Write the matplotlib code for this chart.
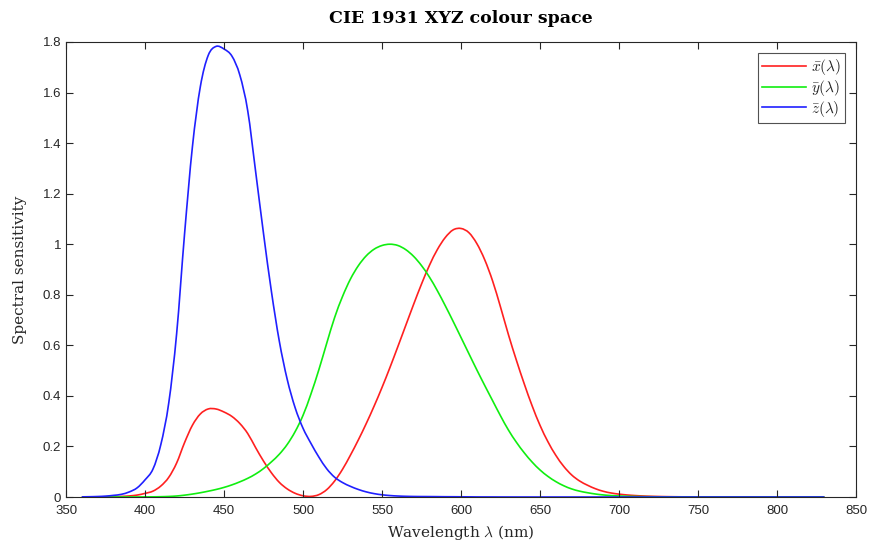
import matplotlib
matplotlib.use('Agg')
import matplotlib.pyplot as plt
from matplotlib.path import Path
from matplotlib.patches import PathPatch
from matplotlib.lines import Line2D

# CIE 1931 2 degree colour matching functions, 5 nm steps
wavelength = list(range(360, 831, 5))

x_bar = [0.0001299, 0.0002321, 0.0004149, 0.0007416, 0.001368, 0.002236, 0.004243, 0.00765,
         0.01431, 0.02319, 0.04351, 0.07763, 0.13438, 0.21477, 0.2839, 0.3285,
         0.34828, 0.34806, 0.3362, 0.3187, 0.2908, 0.2511, 0.19536, 0.1421,
         0.09564, 0.05795, 0.03201, 0.0147, 0.0049, 0.0024, 0.0093, 0.0291,
         0.06327, 0.1096, 0.1655, 0.22575, 0.2904, 0.3597, 0.43345, 0.51205,
         0.5945, 0.6784, 0.7621, 0.8425, 0.9163, 0.9786, 1.0263, 1.0567,
         1.0622, 1.0456, 1.0026, 0.9384, 0.85445, 0.7514, 0.6424, 0.5419,
         0.4479, 0.3608, 0.2835, 0.2187, 0.1649, 0.1212, 0.0874, 0.0636,
         0.04677, 0.0329, 0.0227, 0.01584, 0.011359, 0.0081109, 0.0057903, 0.0041065,
         0.0028993, 0.0020492, 0.00144, 0.001, 0.00069008, 0.00047602, 0.0003323, 0.00023483,
         0.00016615, 0.00011741, 8.3075e-05, 5.8707e-05, 4.151e-05, 2.9353e-05, 2.0674e-05, 1.456e-05,
         1.0254e-05, 7.2215e-06, 5.0859e-06, 3.5817e-06, 2.5225e-06, 1.7765e-06, 1.2511e-06]

y_bar = [3.917e-06, 6.965e-06, 1.239e-05, 2.202e-05, 3.9e-05, 6.4e-05, 0.00012, 0.000217,
         0.000396, 0.00064, 0.00121, 0.00218, 0.004, 0.0073, 0.0116, 0.01684,
         0.023, 0.0298, 0.038, 0.048, 0.06, 0.0739, 0.09098, 0.1126,
         0.13902, 0.1693, 0.20802, 0.2586, 0.323, 0.4073, 0.503, 0.6082,
         0.71, 0.7932, 0.862, 0.91485, 0.954, 0.9803, 0.99495, 1.0,
         0.995, 0.9786, 0.952, 0.9154, 0.87, 0.8163, 0.757, 0.6949,
         0.631, 0.5668, 0.503, 0.4412, 0.381, 0.321, 0.265, 0.217,
         0.175, 0.1382, 0.107, 0.0816, 0.061, 0.04458, 0.032, 0.0232,
         0.017, 0.01192, 0.00821, 0.005723, 0.004102, 0.002929, 0.002091, 0.001484,
         0.001047, 0.00074, 0.00052, 0.0003611, 0.0002492, 0.0001719, 0.00012, 8.48e-05,
         6e-05, 4.24e-05, 3e-05, 2.12e-05, 1.499e-05, 1.06e-05, 7.4657e-06, 5.2578e-06,
         3.7029e-06, 2.6078e-06, 1.8366e-06, 1.2934e-06, 9.1093e-07, 6.4153e-07, 4.5181e-07]

z_bar = [0.0006061, 0.001086, 0.001946, 0.003486, 0.00645, 0.01055, 0.02005, 0.03621,
         0.06785, 0.1102, 0.2074, 0.3713, 0.6456, 1.03905, 1.3856, 1.62296,
         1.74706, 1.7826, 1.77211, 1.7441, 1.6692, 1.5281, 1.28764, 1.0419,
         0.81295, 0.6162, 0.46518, 0.3533, 0.272, 0.2123, 0.1582, 0.1117,
         0.07825, 0.05725, 0.04216, 0.02984, 0.0203, 0.0134, 0.00875, 0.00575,
         0.0039, 0.00275, 0.0021, 0.0018, 0.00165, 0.0014, 0.0011, 0.001,
         0.0008, 0.0006, 0.00034, 0.00024, 0.00019, 0.0001, 5e-05, 3e-05,
         2e-05, 1e-05, 0, 0, 0, 0, 0, 0,
         0, 0, 0, 0, 0, 0, 0, 0,
         0, 0, 0, 0, 0, 0, 0, 0,
         0, 0, 0, 0, 0, 0, 0, 0,
         0, 0, 0, 0, 0, 0, 0]

labels = [r'$\bar{x}(\lambda)$', r'$\bar{y}(\lambda)$', r'$\bar{z}(\lambda)$']
colors = ['#ff2020', '#10ee10', '#2020ff']


def smooth_path(xs, ys):
    # bezier curve through the data points (catmull-rom tangents)
    verts = [(xs[0], ys[0])]
    codes = [Path.MOVETO]
    n = len(xs)
    for i in range(n - 1):
        x0, y0 = xs[max(i - 1, 0)], ys[max(i - 1, 0)]
        x1, y1 = xs[i], ys[i]
        x2, y2 = xs[i + 1], ys[i + 1]
        x3, y3 = xs[min(i + 2, n - 1)], ys[min(i + 2, n - 1)]
        c1 = (x1 + (x2 - x0) / 6, y1 + (y2 - y0) / 6)
        c2 = (x2 - (x3 - x1) / 6, y2 - (y3 - y1) / 6)
        verts += [c1, c2, (x2, y2)]
        codes += [Path.CURVE4] * 3
    return Path(verts, codes)


plt.rcParams['mathtext.fontset'] = 'cm'

fig = plt.figure(figsize=(8.71, 5.43), dpi=100)
ax = fig.add_axes([0.0758, 0.0847, 0.907, 0.838])

handles = []
for vals, c, lab in zip([x_bar, y_bar, z_bar], colors, labels):
    ax.add_patch(PathPatch(smooth_path(wavelength, vals), fill=False,
                           edgecolor=c, lw=1.2))
    handles.append(Line2D([], [], color=c, lw=1.2, label=lab))

ax.set_xlim(350, 850)
ax.set_ylim(0, 1.8)
ax.set_xticks(range(350, 851, 50))
ax.set_yticks([0, 0.2, 0.4, 0.6, 0.8, 1, 1.2, 1.4, 1.6, 1.8])
ax.set_yticklabels(['0', '0.2', '0.4', '0.6', '0.8', '1', '1.2', '1.4', '1.6', '1.8'])

grey = '#262626'
for s in ax.spines.values():
    s.set_color(grey)
    s.set_linewidth(0.8)
ax.tick_params(direction='in', top=True, right=True, length=5, width=0.8, color=grey,
               labelsize=9.5, labelcolor=grey)
ax.tick_params(axis='x', pad=6)
for lab in ax.get_xticklabels() + ax.get_yticklabels():
    lab.set_family('Liberation Sans')

ax.set_title('CIE 1931 XYZ colour space', family='DejaVu Serif', fontweight='bold',
             fontsize=12.5, pad=14)
ax.set_xlabel(r'Wavelength $\lambda$ (nm)', family='DejaVu Serif', fontsize=11,
              color=grey, labelpad=4)
ax.set_ylabel('Spectral sensitivity', family='DejaVu Serif', fontsize=11,
              color=grey, labelpad=11)

leg = ax.legend(handles=handles, loc='upper right', fancybox=False, edgecolor=grey,
                fontsize=11, handlelength=2.9, borderaxespad=0.75, labelspacing=0.05,
                handletextpad=0.3, borderpad=0.25)
leg.get_frame().set_linewidth(0.8)
for t in leg.get_texts():
    t.set_color(grey)

fig.savefig('out.png', dpi=100)
